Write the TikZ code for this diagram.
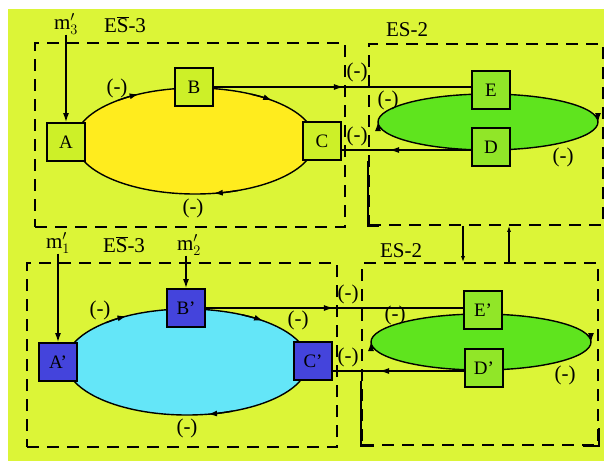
\documentclass[tikz,border=0pt]{standalone}
\usepackage{fontspec}
\setmainfont{Liberation Serif}
\usetikzlibrary{arrows.meta,decorations.markings}

\definecolor{bggreen}{RGB}{220,245,55}
\definecolor{sunyellow}{RGB}{255,236,30}
\definecolor{limebox}{RGB}{205,240,40}
\definecolor{leafgreen}{RGB}{95,228,30}
\definecolor{leafbox}{RGB}{145,230,40}
\definecolor{skycyan}{RGB}{100,230,248}
\definecolor{royalblue}{RGB}{68,68,220}

\tikzset{
  txt/.style={font=\fontsize{21}{24}\selectfont, inner sep=0pt},
  blk/.style={draw, line width=1.8pt, minimum size=38pt, inner sep=0pt, font=\fontsize{19}{22}\selectfont},
  esbox/.style={draw, line width=1.6pt, dash pattern=on 12pt off 8pt, inner sep=0pt},
  flow/.style={line width=1.4pt},
  tip/.style={-{Latex[length=9pt,width=6pt]}},
  smalltip/.style={-{Latex[length=6pt,width=4pt]}},
  midtip/.style={postaction={decorate}, decoration={markings,
      mark=at position #1 with {\arrow{Latex[length=10pt,width=6pt]}}}},
}

\begin{document}
\begin{tikzpicture}[x=1pt, y=-1pt]
\useasboundingbox (0,0) rectangle (604,461);
\fill[white] (0,0) rectangle (604,461);
\fill[bggreen] (8,9) rectangle (604,461);

% subsystem frames
\node[esbox, minimum width=310pt, minimum height=184pt] (es3t) at (190,135) {};
\node[esbox, minimum width=234pt, minimum height=181pt] (es2t) at (486,134.5) {};
\node[esbox, minimum width=310pt, minimum height=184pt] (es3b) at (182,355) {};
\node[esbox, minimum width=236pt, minimum height=182pt] (es2b) at (480,354) {};
\draw[line width=1.6pt] (es2t.south west) ++(0,-65) -- (es2t.south west) -- ++(11,0);
\draw[line width=1.6pt] (es2b.south west) ++(0,-65) -- (es2b.south west) -- ++(13,0);
\draw[line width=1.6pt] (es2b.south east) ++(0,-18) -- (es2b.south east) -- ++(-16,0);

% cycles
\draw[flow, fill=sunyellow] (195,141) ellipse [x radius=120, y radius=53];
\draw[flow, fill=leafgreen] (488,122) ellipse [x radius=110, y radius=28];
\draw[flow, fill=skycyan] (187,362) ellipse [x radius=121, y radius=53];
\draw[flow, fill=leafgreen] (481,342) ellipse [x radius=110, y radius=28];
\foreach \t in {242,310,81}
  \draw[flow, tip] ([shift={(\t-12:120 and 53)}]195,141) arc [start angle=\t-12, end angle=\t, x radius=120, y radius=53];
\foreach \t in {240,309,80}
  \draw[flow, tip] ([shift={(\t-12:121 and 53)}]187,362) arc [start angle=\t-12, end angle=\t, x radius=121, y radius=53];
\foreach \t in {0,180} {
  \draw[flow, tip] ([shift={(\t-15:110 and 28)}]488,122) arc [start angle=\t-15, end angle=\t, x radius=110, y radius=28];
  \draw[flow, tip] ([shift={(\t-15:110 and 28)}]481,342) arc [start angle=\t-15, end angle=\t, x radius=110, y radius=28];
}

% links between subsystems
\coordinate (dc) at (420,150);
\coordinate (dc1) at (420,371);
\coordinate (lnk1) at (463,240);
\coordinate (lnk2) at (509,240);

% blocks
\node[blk, fill=limebox] (A) at (66,142) {A};
\node[blk, fill=limebox] (B) at (194,87) {B};
\node[blk, fill=limebox] (C) at (322,141) {C};
\node[blk, fill=leafbox] (E) at (491,90) {E};
\node[blk, fill=leafbox] (D) at (491,147) {D};
\node[blk, fill=royalblue] (A1) at (58,362) {A'};
\node[blk, fill=royalblue] (B1) at (186,308) {B'};
\node[blk, fill=royalblue] (C1) at (313,361) {C'};
\node[blk, fill=leafbox] (E1) at (483,310) {E'};
\node[blk, fill=leafbox] (D1) at (484,368) {D'};

\draw[flow, midtip=130pt] (B.east) -- (B.east -| E.west);
\draw[flow, midtip=82pt] (D.west |- dc) -- (C.east |- dc);
\draw[flow, midtip=128pt] (B1.east) -- (B1.east -| E1.west);
\draw[flow, midtip=85pt] (D1.west |- dc1) -- (C1.east |- dc1);
\draw[flow, smalltip] (lnk1 |- es2t.south) -- (lnk1 |- es2b.north);
\draw[flow, smalltip] (lnk2 |- es2b.north) -- (lnk2 |- es2t.south);

% inputs
\node[txt] (m3) at (66,24) {m$'_3$};
\node[txt] (m1) at (58,243) {m$'_1$};
\node[txt] (m2) at (189,245) {m$'_2$};
\draw[flow, tip] (A.north |- m3.south) -- (A.north);
\draw[flow, tip] (A1.north |- m1.south) -- (A1.north);
\draw[flow, tip] (B1.north |- m2.south) -- (B1.north);

% frame names
\node[txt] (es3tl) at (125,25) {E$\overline{\hbox{S}}$-3};
\node[txt] (es2tl) at (407,30) {ES-2};
\node[txt] (es3bl) at (124,245) {E$\overline{\hbox{S}}$-3};
\node[txt] (es2bl) at (401,251) {ES-2};

% signs
\foreach \x/\y/\n in {117/88/s1, 193/208/s2, 357/72/s3, 388/100/s4, 357/136/s5, 563/157/s6,
    100/310/s7, 298/320/s8, 187/428/s9, 348/294/s10, 395/315/s11, 348/357/s12, 565/375/s13}
  \node[txt] (\n) at (\x,\y) {(-)};
\end{tikzpicture}
\end{document}
